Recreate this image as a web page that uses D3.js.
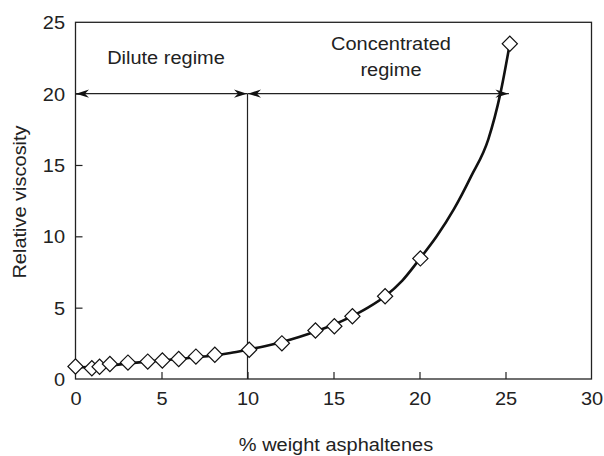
<!DOCTYPE html>
<html>
<head>
<meta charset="utf-8">
<script src="https://cdn.jsdelivr.net/npm/d3@7"></script>
<style>
  html, body { margin: 0; padding: 0; background: #fff; }
  svg { display: block; font-family: "Liberation Sans", Arial, sans-serif; }
</style>
</head>
<body>
<svg id="chart" width="604" height="456"></svg>
<script>
// ---- data ----
const markerX = [0, 0.95, 1.4, 2.0, 3.05, 4.2, 5.05, 6.0, 7.0, 8.1, 10.1, 12.0, 13.95, 15.05, 16.1, 18.0, 20.05, 25.25];
const markerY = [0.88, 0.75, 0.86, 1.05, 1.15, 1.22, 1.3, 1.4, 1.57, 1.7, 2.05, 2.5, 3.4, 3.7, 4.4, 5.8, 8.45, 23.5];

const curveX = [0, 1, 2, 3, 4, 5, 6, 7, 8, 9, 10, 11, 12, 13, 14, 15, 16, 17, 18, 19, 20, 21, 22, 23, 24, 24.7, 25.25];
const curveY = [0.82, 0.86, 0.95, 1.08, 1.2, 1.3, 1.4, 1.52, 1.65, 1.82, 2.05, 2.3, 2.6, 2.95, 3.35, 3.8, 4.35, 5.0, 5.8, 6.9, 8.4, 10.0, 11.9, 14.2, 16.8, 20.0, 23.5];

const xTicks = [0, 5, 10, 15, 20, 25, 30];
const yTicks = [0, 5, 10, 15, 20, 25];

const regimeBoundary = 10;   // % weight where the regimes split
const arrowLevel = 20;        // relative viscosity level of the arrows
const arrowEnd = 25.2;        // right end of the concentrated arrow

const xLabel = "% weight asphaltenes";
const yLabel = "Relative viscosity";
const diluteLabel = ["Dilute regime"];
const concLabel = ["Concentrated", "regime"];

// ---- layout ----
const W = 604, H = 456;
const m = { left: 75.5, right: 12.5, top: 22.3, bottom: 77 };
const svg = d3.select("#chart");
const fs = 18.5;
const sx = 1.08; // horizontal stretch of the reference lettering
const ink = "#222";

const x = d3.scaleLinear().domain([0, 30]).range([m.left, W - m.right]);
const y = d3.scaleLinear().domain([0, 25]).range([H - m.bottom, m.top]);

function label(px, py, txt, anchor, rot) {
  return svg.append("text")
    .attr("transform", `translate(${px},${py})${rot ? " rotate(" + rot + ")" : ""} scale(${sx},1)`)
    .attr("text-anchor", anchor).attr("font-size", fs).attr("fill", ink).text(txt);
}

// frame
svg.append("rect")
  .attr("x", x(0)).attr("y", y(25))
  .attr("width", x(30) - x(0)).attr("height", y(0) - y(25))
  .attr("fill", "none").attr("stroke", ink).attr("stroke-width", 1.3);

// x axis (ticks inward)
const xAxis = d3.axisBottom(x).tickValues(xTicks).tickSize(-7).tickFormat(d3.format("d"));
const gx = svg.append("g").attr("transform", `translate(0,${y(0)})`).call(xAxis);
gx.select(".domain").remove();
gx.selectAll(".tick line").attr("stroke", ink).attr("stroke-width", 1.2)
  .filter(d => d === 0 || d === 30).remove();
gx.selectAll(".tick text").attr("font-size", fs).attr("fill", ink)
  .attr("font-family", "Liberation Sans, Arial, sans-serif")
  .attr("y", 26).attr("dy", null)
  .attr("transform", `scale(${sx},1)`);

// y axis (ticks inward)
const yAxis = d3.axisLeft(y).tickValues(yTicks).tickSize(-7).tickFormat(d3.format("d"));
const gy = svg.append("g").attr("transform", `translate(${x(0)},0)`).call(yAxis);
gy.select(".domain").remove();
gy.selectAll(".tick line").attr("stroke", ink).attr("stroke-width", 1.2)
  .filter(d => d === 0 || d === 25).remove();
gy.selectAll(".tick text").attr("font-size", fs).attr("fill", ink)
  .attr("font-family", "Liberation Sans, Arial, sans-serif")
  .attr("x", -10.5 / sx).attr("dy", "0.36em")
  .attr("transform", `scale(${sx},1)`);

// axis titles
label(336, 450.5, xLabel, "middle");
label(26, 202, yLabel, "middle", -90);

// vertical regime boundary line
svg.append("line")
  .attr("x1", x(regimeBoundary)).attr("x2", x(regimeBoundary))
  .attr("y1", y(arrowLevel)).attr("y2", y(0))
  .attr("stroke", ink).attr("stroke-width", 1.2);

// arrows
function arrowHead(tipX, tipY, dir) {
  const L = 13, hw = 4.2, notch = 9;
  const pts = [[0, 0], [-L, -hw], [-notch, 0], [-L, hw]]
    .map(([a, b]) => [tipX + dir * a, tipY + b]);
  svg.append("path").attr("d", "M" + pts.map(p => p.join(",")).join("L") + "Z")
    .attr("fill", "#111");
}
function doubleArrow(x1, x2, lvl) {
  const yy = y(lvl);
  svg.append("line").attr("x1", x(x1)).attr("x2", x(x2)).attr("y1", yy).attr("y2", yy)
    .attr("stroke", ink).attr("stroke-width", 1.2);
  arrowHead(x(x1) + 0.5, yy, -1);
  arrowHead(x(x2) - 0.5, yy, 1);
}
doubleArrow(0, regimeBoundary, arrowLevel);
doubleArrow(regimeBoundary, arrowEnd, arrowLevel);

// regime labels
label(166, 64, diluteLabel[0], "middle");
concLabel.forEach((t, i) => label(391, 50 + i * 26, t, "middle"));

// fitted curve
const pts = curveX.map((v, i) => [v, curveY[i]]);
const line = d3.line().x(d => x(d[0])).y(d => y(d[1])).curve(d3.curveMonotoneX);
svg.append("path").attr("d", line(pts)).attr("fill", "none")
  .attr("stroke", "#111").attr("stroke-width", 2.6).attr("stroke-linejoin", "round");

// diamond markers
const markers = markerX.map((v, i) => [v, markerY[i]]);
const sym = d3.symbol().type(d3.symbolSquare).size(115);
svg.append("g").selectAll("path").data(markers).join("path")
  .attr("d", sym)
  .attr("transform", d => `translate(${x(d[0])},${y(d[1])}) rotate(45)`)
  .attr("fill", "#fff").attr("stroke", "#111").attr("stroke-width", 1.2);
</script>
</body>
</html>
